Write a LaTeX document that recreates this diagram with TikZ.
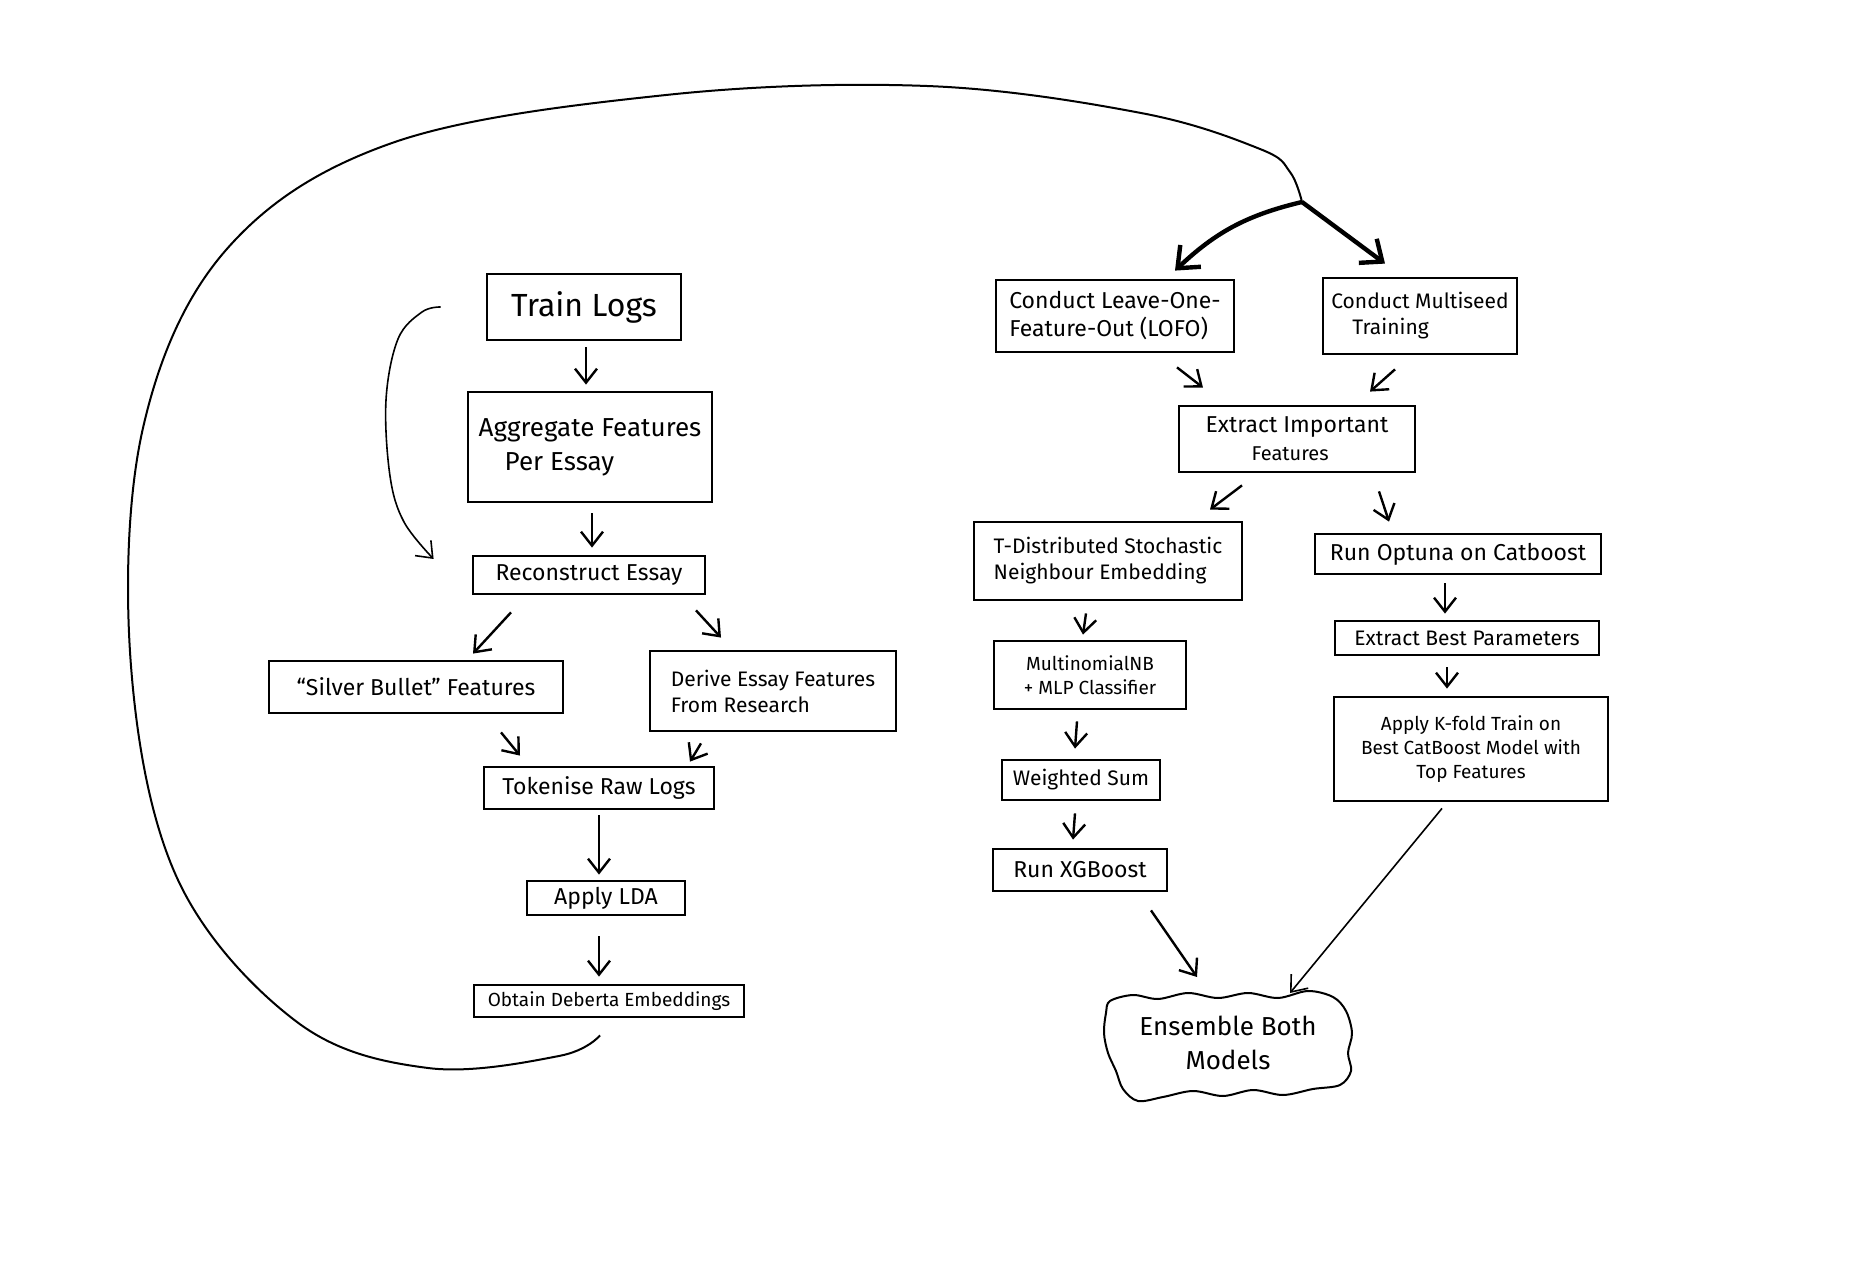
\documentclass[tikz,border=0pt]{standalone}
\usepackage{fontspec}
\setmainfont{Fira Sans}
\usetikzlibrary{arrows.meta,calc}

\begin{document}
\begin{tikzpicture}[x=0.5pt,y=-0.5pt,
		box/.style={draw,line width=1.4pt,inner sep=1pt},
		arr/.style={line width=1.2pt,-{Straight Barb[length=7pt,width=11pt]}},
		forkarr/.style={line width=2.2pt,-{Straight Barb[length=9pt,width=15pt]}},
		fbig/.style={font=\fontsize{16}{19}\selectfont},
		fmed/.style={font=\fontsize{13}{17}\selectfont},
		fnorm/.style={font=\fontsize{11.5}{14}\selectfont},
		fsmall/.style={font=\fontsize{10.5}{13}\selectfont},
		ftiny/.style={font=\fontsize{9.5}{12}\selectfont}]
		\useasboundingbox[fill=white] (0,0) rectangle (1864,1272);
		\node[box,fbig,minimum width=97pt,minimum height=33pt] (train) at (584,307) {Train Logs};
		\node[box,fmed,align=left,minimum width=122pt,minimum height=55pt] (agg) at (590,447) {Aggregate Features\\\quad Per Essay};
		\node[box,fnorm,minimum width=116pt,minimum height=19pt] (recon) at (589,575) {Reconstruct Essay};
		\node[box,fnorm,minimum width=147pt,minimum height=26pt] (silver) at (416,687) {“Silver Bullet” Features};
		\node[box,fsmall,align=left,minimum width=123pt,minimum height=40pt] (derive) at (773,691) {Derive Essay Features\\From Research};
		\node[box,fnorm,minimum width=115pt,minimum height=21pt] (tok) at (599,788) {Tokenise Raw Logs};
		\node[box,fnorm,minimum width=79pt,minimum height=17pt] (lda) at (606,898) {Apply LDA};
		\node[box,ftiny,minimum width=135pt,minimum height=16pt] (deb) at (609,1001) {Obtain Deberta Embeddings};
		\node[box,fnorm,align=left,minimum width=119pt,minimum height=36pt] (lofo) at (1115,316) {Conduct Leave-One-\\Feature-Out (LOFO)};
		\node[box,fsmall,align=left,minimum width=97pt,minimum height=38pt] (seed) at (1420,316) {Conduct Multiseed\\\quad Training};
		\node[box,fnorm,align=left,minimum width=118pt,minimum height=33pt] (imp) at (1297,439) {Extract Important\\\quad\quad{\fontsize{10}{12}\selectfont Features}};
		\node[box,fsmall,align=left,minimum width=134pt,minimum height=39pt] (tsne) at (1108,561) {T-Distributed Stochastic\\Neighbour Embedding};
		\node[box,fnorm,minimum width=143pt,minimum height=20pt] (optuna) at (1458,554) {Run Optuna on Catboost};
		\node[box,ftiny,align=center,minimum width=96pt,minimum height=34pt] (mnb) at (1090,675) {MultinomialNB\\+ MLP Classifier};
		\node[box,fsmall,minimum width=132pt,minimum height=17pt] (best) at (1467,638) {Extract Best Parameters};
		\node[box,fsmall,minimum width=79pt,minimum height=20pt] (wsum) at (1081,780) {Weighted Sum};
		\node[box,ftiny,align=center,minimum width=137pt,minimum height=52pt] (kfold) at (1471,749) {Apply K-fold Train on\\Best CatBoost Model with\\Top Features};
		\node[box,fnorm,minimum width=87pt,minimum height=21pt] (xgb) at (1080,870) {Run XGBoost};
		\node[fmed,align=center,minimum width=120pt,minimum height=48pt,inner sep=0pt] (ens) at (1228,1043) {Ensemble Both\\Models};
		\begin{scope}[shift={(ens.center)}]
			\draw[line width=1pt] plot[smooth cycle,tension=0.55] coordinates {(-118,-42) (-95,-48) (-70,-44) (-40,-50) (-10,-45) (20,-50) (50,-45) (80,-52) (105,-46) (118,-32) (124,-10) (120,10) (123,28) (112,42) (85,46) (55,52) (25,47) (-5,53) (-35,48) (-65,54) (-90,58) (-105,46) (-112,28) (-120,10) (-124,-10) (-122,-30)};
		\end{scope}
		\draw[arr] ($(train.south)+(2,6)$) -- ($(agg.north)+(-4,-6)$);
		\draw[arr] ($(agg.south)+(2,10)$) -- ($(recon.north)+(3,-7)$);
		\draw[arr] ($(recon.south)+(-78,17)$) -- ($(silver.north)+(57,-6)$);
		\draw[arr] ($(recon.south)+(107,15)$) -- ($(derive.north)+(-52,-12)$);
		\draw[arr] ($(silver.south)+(85,18)$) -- ($(tok.north)+(-79,-10)$);
		\draw[arr] ($(derive.south)+(-72,11)$) -- ($(tok.north)+(91,-4)$);
		\draw[arr] ($(tok.south)+(0,5)$) -- ($(lda.north)+(-7,-5)$);
		\draw[arr] ($(lda.south)+(-7,20)$) -- ($(deb.north)+(-10,-7)$);
		\draw[arr] ($(lofo.south)+(62,14)$) -- ($(imp.north)+(-94,-17)$);
		\draw[arr] ($(seed.south)+(-25,14)$) -- ($(imp.north)+(73,-13)$);
		\draw[arr] ($(imp.south)+(-55,12)$) -- ($(tsne.north)+(102,-11)$);
		\draw[arr] ($(imp.south)+(82,18)$) -- ($(optuna.north)+(-69,-11)$);
		\draw[arr] ($(optuna.south)+(-13,8)$) -- ($(best.north)+(-22,-6)$);
		\draw[arr] ($(best.south)+(-20,11)$) -- ($(kfold.north)+(-24,-7)$);
		\draw[arr] ($(tsne.south)+(-22,12)$) -- ($(mnb.north)+(-7,-5)$);
		\draw[arr] ($(mnb.south)+(-13,11)$) -- ($(wsum.north)+(-6,-10)$);
		\draw[arr] ($(wsum.south)+(-6,12)$) -- ($(xgb.north)+(-7,-8)$);
		\draw[arr] ($(xgb.south)+(71,18)$) -- ($(ens.center)+(-31,-66)$);
		\draw[arr,line width=0.8pt] ($(kfold.south)+(-29,6)$) -- ($(ens.center)+(62,-50)$);
		\coordinate (fork) at (1302,202);
		\coordinate (tail) at ($(deb.south)+(-9,17)$);
		\draw[line width=1pt] plot[smooth,tension=0.6] coordinates {(tail) (559,1056) (428,1068) (297,1022) (178,880) (131,666) (143,428) (226,250) (392,143) (666,95) (927,86) (1141,113) (1260,149) (1290,172) (fork)};
		\draw[forkarr] (fork) to[bend right=15] ($(lofo.north)+(60,-8)$);
		\draw[forkarr] (fork) -- ($(seed.north)+(-35,-13)$);
		\coordinate (hook) at ($(train.west)+(-45,0)$);
		\coordinate (hookend) at ($(recon.west)+(-38,-16)$);
		\draw[line width=0.8pt,-{Straight Barb[length=7pt,width=11pt]}] plot[smooth,tension=0.6] coordinates {(hook) (422,312) (398,339) (386,400) (390,476) (404,522) (hookend)};
\end{tikzpicture}
\end{document}
